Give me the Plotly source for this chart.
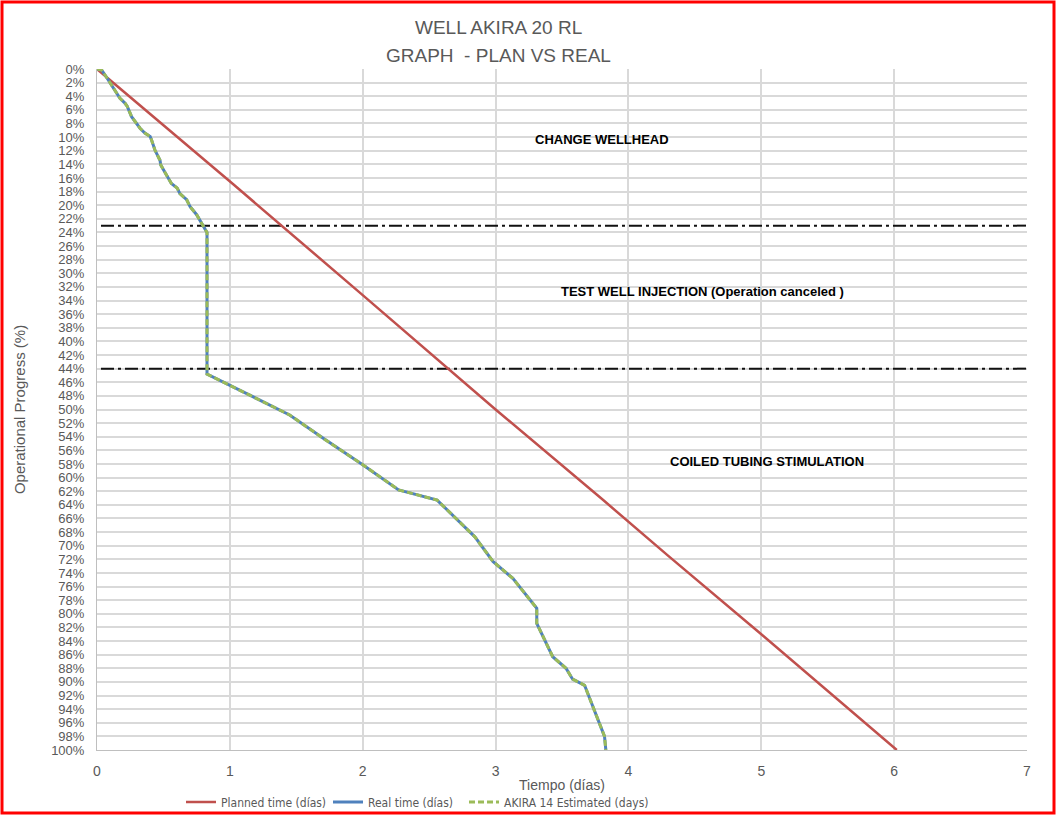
import plotly.graph_objects as go

# ---- data ----
planned_days = [0, 1.03, 2.0, 3.0, 3.81, 4.3, 5.0, 6.02]
planned_pct = [0, 17, 33.2, 50, 63.3, 71.5, 83, 100]

real_days = [0, 0.035, 0.068, 0.10, 0.148, 0.173, 0.21, 0.228, 0.26, 0.30, 0.324, 0.36,
             0.40, 0.41, 0.436, 0.474, 0.48, 0.524, 0.56, 0.604, 0.624, 0.675, 0.70, 0.75,
             0.788, 0.813, 0.828, 0.828, 1.0, 1.15, 1.45, 1.70, 2.0, 2.27, 2.56, 2.844,
             2.98, 3.13, 3.31, 3.31, 3.43, 3.53, 3.58, 3.67, 3.82, 3.83]
real_pct = [0, 0.15, 1.1, 2.1, 3.6, 4.3, 5.0, 5.5, 7.0, 8.0, 8.7, 9.4,
            9.9, 10.4, 11.9, 13.4, 14.1, 15.6, 16.8, 17.5, 18.3, 19.2, 20.2, 21.4,
            22.7, 23.4, 24.0, 44.8, 46.4, 47.9, 50.8, 54.2, 58.1, 61.8, 63.3, 68.7,
            72.3, 74.8, 79.2, 81.4, 86.3, 88.0, 89.6, 90.5, 98.0, 100]

phase_limits = [23, 44]
phase_labels = ["CHANGE WELLHEAD", "TEST WELL INJECTION (Operation canceled )", "COILED TUBING STIMULATION"]
phase_label_x = [3.8, 4.56, 5.04]
phase_label_y = [10.4, 32.7, 57.7]

y_ticks = list(range(0, 101, 2))
y_tick_text = [f"{v}%" for v in y_ticks]
x_ticks = list(range(0, 8))

FONT = "Liberation Sans Narrow, Arial Narrow, Liberation Sans, Arial"
COND = "DejaVu Sans Condensed, Liberation Sans Narrow, Roboto Condensed, Liberation Sans, Arial"
GRAY = "#595959"

# plot area in pixels
L, R, T, B = 97, 1027, 69, 750
PW, PH = R - L, B - T


def px(xp):
    return (xp - L) / PW


def py(yp):
    return (B - yp) / PH


fig = go.Figure()

for lim in phase_limits:
    fig.add_trace(go.Scatter(x=[0.03, 7], y=[lim, lim], mode="lines",
                             line=dict(color="#111111", width=2, dash="13px,4px,3px,4px"),
                             showlegend=False, hoverinfo="skip"))

fig.add_trace(go.Scatter(x=planned_days, y=planned_pct, mode="lines",
                         name="Planned time (días)", line=dict(color="#c0504d", width=2.5),
                         legend="legend"))
fig.add_trace(go.Scatter(x=real_days, y=real_pct, mode="lines",
                         name="Real time (días)", line=dict(color="#4f81bd", width=3),
                         legend="legend2"))
fig.add_trace(go.Scatter(x=real_days, y=real_pct, mode="lines",
                         name="AKIRA 14 Estimated (days)",
                         line=dict(color="#9bbb59", width=3, dash="6px,3px"),
                         legend="legend3"))

for txt, xx, yy in zip(phase_labels, phase_label_x, phase_label_y):
    fig.add_annotation(x=xx, y=yy, text=f"<b>{txt}</b>", showarrow=False,
                       font=dict(family=FONT, size=13, color="#000000"))

# title lines
fig.add_annotation(xref="paper", yref="paper", x=px(498), y=py(28), xanchor="center", yanchor="middle",
                   text="WELL AKIRA 20 RL", showarrow=False,
                   font=dict(family=FONT, size=19, color=GRAY))
fig.add_annotation(xref="paper", yref="paper", x=px(498), y=py(55), xanchor="center", yanchor="middle",
                   text="GRAPH  - PLAN VS REAL", showarrow=False,
                   font=dict(family=FONT, size=19, color=GRAY))

# red frame around the whole picture
fig.add_shape(type="rect", xref="paper", yref="paper",
              x0=px(2), x1=px(1054), y0=py(813), y1=py(2),
              line=dict(color="#ff0000", width=3), layer="above")

leg_common = dict(orientation="h", yanchor="middle", xanchor="left",
                  font=dict(family=COND, size=12, color=GRAY), bgcolor="rgba(0,0,0,0)",
                  itemwidth=30)
fig.update_layout(
    width=1056, height=816,
    margin=dict(l=L, r=1056 - R, t=T, b=816 - B, autoexpand=False),
    paper_bgcolor="white", plot_bgcolor="white",
    font=dict(family=FONT, color=GRAY, size=13),
    legend=dict(x=px(181), y=py(802), **leg_common),
    legend2=dict(x=px(328), y=py(802), **leg_common),
    legend3=dict(x=px(464), y=py(802), **leg_common),
    xaxis=dict(range=[0, 7], tickvals=x_ticks, showgrid=True, gridcolor="#d9d9d9", gridwidth=1.5,
               zeroline=False, showline=True, linecolor="#bfbfbf", linewidth=1,
               ticks="", ticklabelstandoff=8, tickfont=dict(family=FONT, size=14, color=GRAY),
               title=dict(text="Tiempo (días)", font=dict(family=FONT, size=14, color=GRAY), standoff=2)),
    yaxis=dict(range=[100, 0], tickvals=y_ticks, ticktext=y_tick_text, showgrid=True,
               gridcolor="#d9d9d9", gridwidth=1.5, zeroline=False, showline=True,
               linecolor="#bfbfbf", linewidth=1, ticks="", ticklabelstandoff=9,
               tickfont=dict(family=FONT, size=13, color=GRAY),
               title=dict(text="Operational Progress (%)", font=dict(family=FONT, size=15, color=GRAY), standoff=21)),
)

fig.write_html("out.html")
